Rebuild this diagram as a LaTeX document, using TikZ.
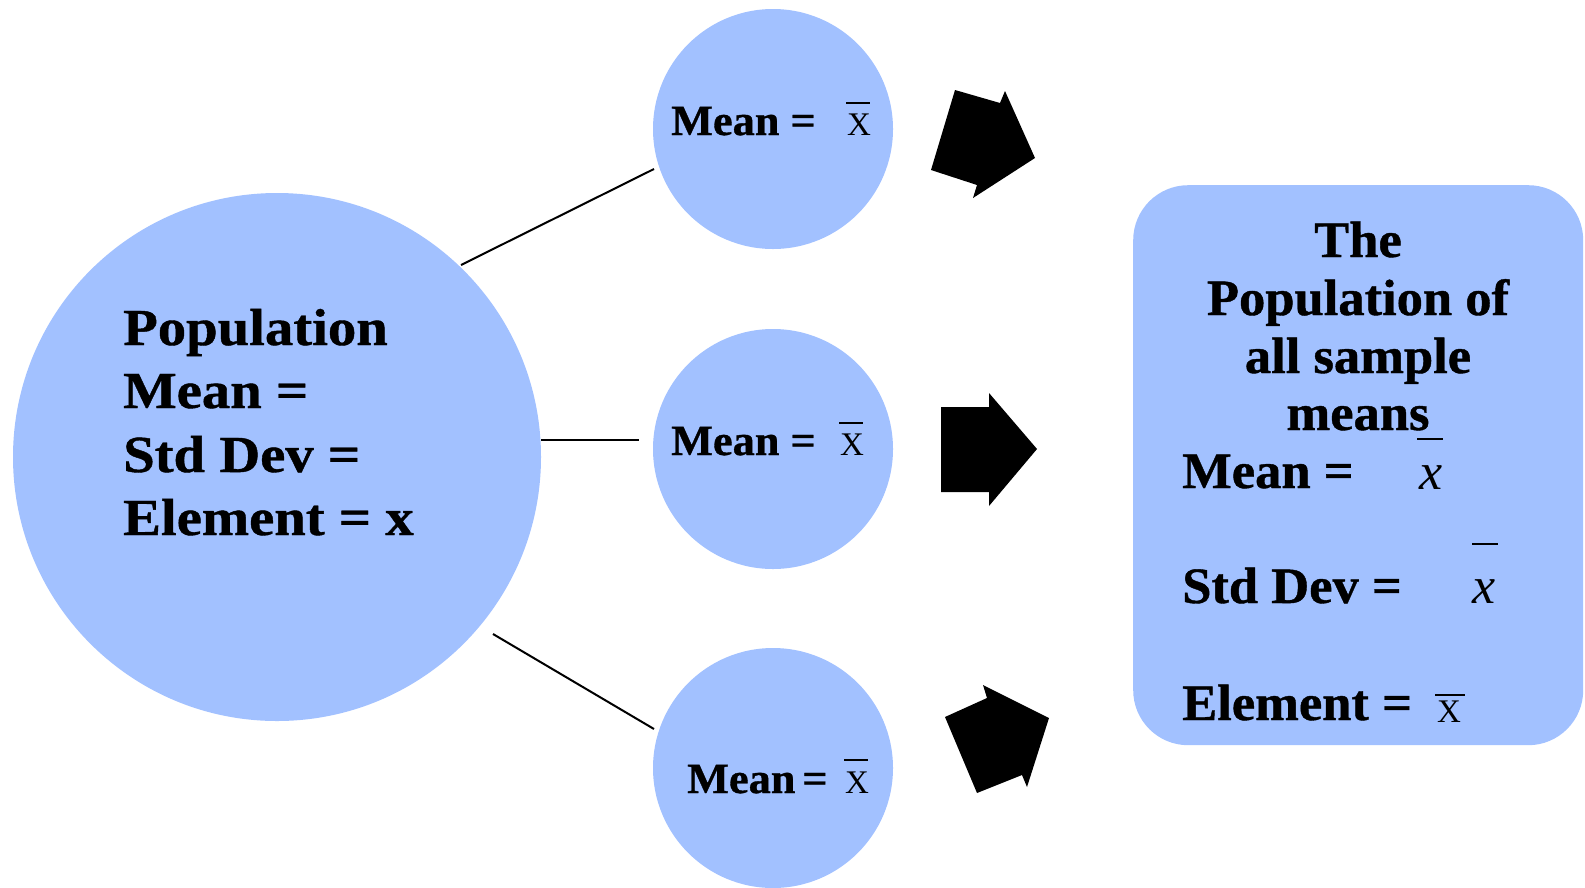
\documentclass[tikz,border=0pt]{standalone}
\usepackage{fontspec}
\setmainfont{Liberation Serif}
\newfontfamily\tnr[BoldFeatures={FakeBold=0.8}]{Liberation Serif}
\newfontfamily\tnrwide[FakeStretch=1.09,BoldFeatures={FakeBold=0.8}]{Liberation Serif}
\newfontfamily\tnrbox[FakeStretch=1.03,BoldFeatures={FakeBold=0.8}]{Liberation Serif}
\definecolor{blobblue}{RGB}{162,193,255}
\tikzset{
  blob/.style={circle, fill=blobblue, draw=none, inner sep=0pt},
  bigtxt/.style={inner sep=0pt, anchor=base west, font=\tnrwide\bfseries\fontsize{52}{63}\selectfont},
  boxtxt/.style={inner sep=0pt, anchor=base, font=\tnrbox\bfseries\fontsize{51}{58}\selectfont},
  boxlbl/.style={inner sep=0pt, anchor=base west, font=\tnrbox\bfseries\fontsize{51}{58}\selectfont},
  smalltxt/.style={inner sep=0pt, anchor=base west, font=\tnrbox\bfseries\fontsize{43}{50}\selectfont},
  barx/.style={inner sep=0pt, anchor=base west, font=\tnr\fontsize{33}{40}\selectfont},
  itx/.style={inner sep=0pt, anchor=base west, font=\tnr\itshape\fontsize{52}{56}\selectfont},
  bar/.style={line width=1.6pt},
  link/.style={line width=2pt, black},
  blockarrow/.style={fill=black, draw=none}
}
\begin{document}
\begin{tikzpicture}[x=1pt,y=-1pt]
\useasboundingbox (0,0) rectangle (1585,887);
\fill[white] (0,0) rectangle (1585,887);

% circles
\node[blob, minimum size=528pt] (pop) at (277,457) {};
\node[blob, minimum size=240pt] (s1) at (773,129) {};
\node[blob, minimum size=240pt] (s2) at (773,449) {};
\node[blob, minimum size=240pt] (s3) at (773,768) {};

% right box
\node[fill=blobblue, rounded corners=55pt, inner sep=0pt, minimum width=450pt, minimum height=560pt, anchor=north west] (box) at (1133,185) {};

% connectors
\coordinate (a1) at (461,265);
\coordinate (b1) at (654,169);
\coordinate (a2) at (541,440);
\coordinate (b2) at (639,440);
\coordinate (a3) at (493,634);
\coordinate (b3) at (654,729);
\draw[link] (a1) -- (b1);
\draw[link] (a2) -- (b2);
\draw[link] (a3) -- (b3);

% block arrows
\fill[blockarrow] (955,90) -- (1000,103) -- (1005,91) -- (1035,158) -- (973,198) -- (977,185) -- (931,170) -- cycle;
\fill[blockarrow] (941,407) -- (989,407) -- (989,393) -- (1037,449) -- (989,506) -- (989,492) -- (941,492) -- cycle;
\fill[blockarrow] (945,717) -- (987,698) -- (983,685) -- (1049,718) -- (1027,787) -- (1022,775) -- (977,793) -- cycle;

% left text
\node[bigtxt] (p1) at (123,345) {Population};
\node[bigtxt] (p2) at (123,408) {Mean =};
\node[bigtxt] (p3) at (123,472) {Std Dev =};
\node[bigtxt] (p4) at (123,535) {Element = x};

% small circle texts
\node[smalltxt] (m1) at (671,135) {Mean =};
\node[barx] (x1) at (847,135) {X};
\draw[bar] (846,103) -- (870,103);
\node[smalltxt] (m2) at (671,455) {Mean =};
\node[barx] (x2) at (840,455) {X};
\draw[bar] (839,423) -- (863,423);
\node[smalltxt] (m3) at (687,793) {Mean\hspace{7pt}=};
\node[barx] (x3) at (845,793) {X};
\draw[bar] (844,760) -- (868,760);

% right box texts
\node[boxtxt] (t1) at (1358,257) {The};
\node[boxtxt] (t2) at (1358,315) {Population of};
\node[boxtxt] (t3) at (1358,373) {all sample};
\node[boxtxt] (t4) at (1358,430) {means};
\node[boxlbl] (r1) at (1182,488) {Mean =};
\node[itx] (rx1) at (1419,489) {x};
\draw[bar] (1417,439) -- (1443,439);
\node[boxlbl] (r2) at (1182,603) {Std Dev =};
\node[itx] (rx2) at (1472,603) {x};
\draw[bar] (1472,544) -- (1498,544);
\node[boxlbl] (r3) at (1182,720) {Element =};
\node[barx] (rx3) at (1437,722) {X};
\draw[bar] (1435,695) -- (1465,695);
\end{tikzpicture}
\end{document}
